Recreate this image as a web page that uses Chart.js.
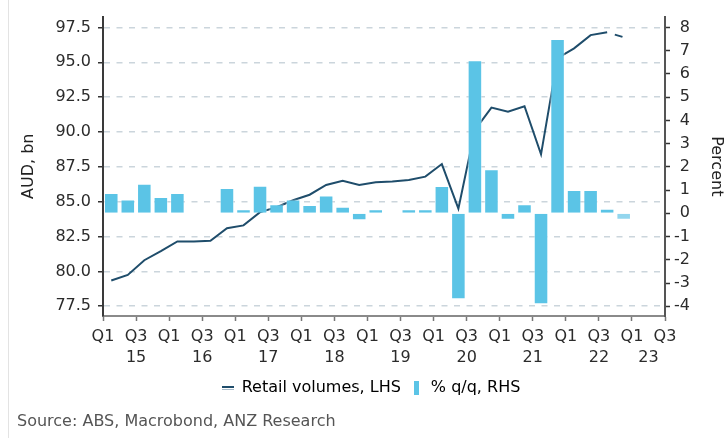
<!DOCTYPE html>
<html>
<head>
<meta charset="utf-8">
<script src="https://cdn.jsdelivr.net/npm/chart.js@4.4.1/dist/chart.umd.min.js"></script>
<style>
  body { margin: 0; background: #fff; }
  #wrap { position: relative; width: 724px; height: 438px; }
  #frame { position: absolute; left: 8px; top: 0; width: 1px; height: 438px; background: #e3e3e3; }
  #source { position: absolute; left: 17px; top: 411px; font: 16px 'DejaVu Sans', Verdana, sans-serif; color: #555; }
</style>
</head>
<body>
<div id="wrap">
  <canvas id="chart" width="724" height="438"></canvas>
  <div id="frame"></div>
  <div id="source">Source: ABS, Macrobond, ANZ Research</div>
</div>
<script>
// quarterly, Q1 2015 .. Q4 2022
const retailVolumes = [79.35, 79.75, 80.8, 81.45, 82.15, 82.15, 82.2, 83.1,
                       83.3, 84.25, 84.6, 85.1, 85.5, 86.2, 86.5, 86.2,
                       86.4, 86.45, 86.55, 86.8, 87.7, 84.5, 90.15, 91.75,
                       91.45, 91.85, 88.4, 95.3, 96.0, 96.95, 97.15, 96.8];
const qoqGrowth = [0.88, 0.6, 1.27, 0.7, 0.88, null, null, 1.09,
                   0.18, 1.19, 0.39, 0.6, 0.36, 0.77, 0.28, -0.3,
                   0.18, null, 0.18, 0.18, 1.18, -3.7, 6.59, 1.9,
                   -0.28, 0.39, -3.91, 7.51, 1.0, 1.0, 0.2, -0.28];
const years = ['15', '16', '17', '18', '19', '20', '21', '22', '23'];
const yearTickPos = [2, 6, 10, 14, 18, 22, 26, 30, 33];
const leftTicks = [77.5, 80, 82.5, 85, 87.5, 90, 92.5, 95, 97.5];
const rightTicks = [-4, -3, -2, -1, 0, 1, 2, 3, 4, 5, 6, 7, 8];

const lineColor = '#1f4d6b';
const barColor = '#5bc4e6';
const barColorLast = '#93d6ee';

Chart.defaults.font.family = "'DejaVu Sans', Verdana, sans-serif";
Chart.defaults.font.size = 16;
Chart.defaults.color = '#2b2b2b';

function makeIcon(w, h, draw) {
    const c = document.createElement('canvas');
    c.width = w;
    c.height = h;
    draw(c.getContext('2d'));
    return c;
}
const lineIcon = makeIcon(12, 8, g => {
    g.fillStyle = lineColor;
    g.fillRect(0, 2, 12, 2);
    g.fillStyle = '#a9bccb';
    g.fillRect(0, 5, 12, 1);
});
const barIcon = makeIcon(5, 14, g => {
    g.fillStyle = barColor;
    g.fillRect(0, 0, 5, 14);
});

const ctx = document.getElementById('chart').getContext('2d');
const chart = new Chart(ctx, {
    type: 'bar',
    data: {
        datasets: [{
            type: 'line',
            label: 'Retail volumes, LHS',
            data: retailVolumes.map((v, i) => ({ x: i + 0.5, y: v })),
            yAxisID: 'y',
            borderColor: lineColor,
            borderWidth: 2,
            pointRadius: 0,
            tension: 0,
            order: 2,
            segment: {
                borderDash: c => c.p1DataIndex === retailVolumes.length - 1 ? [8, 8] : undefined,
                borderDashOffset: c => c.p1DataIndex === retailVolumes.length - 1 ? 8 : 0,
            },
        }, {
            label: '% q/q, RHS',
            data: qoqGrowth.map((v, i) => ({ x: i + 0.5, y: v })),
            yAxisID: 'y1',
            backgroundColor: qoqGrowth.map((v, i) => i === qoqGrowth.length - 1 ? barColorLast : barColor),
            borderColor: 'rgba(255,255,255,0.45)',
            borderWidth: 1,
            barPercentage: 0.88,
            categoryPercentage: 1,
            order: 1,
        }],
    },
    options: {
        responsive: false,
        animation: false,
        devicePixelRatio: 1,
        layout: { padding: { top: 9.5, bottom: 32, left: 52, right: 34 } },
        plugins: {
            tooltip: { enabled: false },
            legend: {
                position: 'bottom',
                labels: {
                    usePointStyle: true,
                    boxWidth: 12,
                    padding: 10,
                    color: '#222',
                    font: { size: 16 },
                    generateLabels: () => [
                        { text: 'Retail volumes, LHS', pointStyle: lineIcon, datasetIndex: 0, lineWidth: 0, hidden: false },
                        { text: '% q/q, RHS', pointStyle: barIcon, datasetIndex: 1, lineWidth: 0, hidden: false },
                    ],
                },
            },
        },
        scales: {
            x: {
                type: 'linear',
                position: 'bottom',
                min: 0,
                max: 34,
                offset: false,
                weight: 0,
                afterBuildTicks: s => { s.ticks = []; for (let q = 0; q <= 34; q += 2) s.ticks.push({ value: q }); },
                afterFit: s => { s.height = 30; },
                ticks: {
                    autoSkip: false,
                    maxRotation: 0,
                    padding: 6,
                    callback: v => (v % 4 === 0 ? 'Q1' : 'Q3'),
                },
                grid: { offset: false, drawOnChartArea: false, tickLength: 5, tickColor: '#777', tickWidth: 1.5 },
                border: { color: '#8a8a8a', width: 2 },
            },
            xYear: {
                type: 'linear',
                axis: 'x',
                position: 'bottom',
                min: 0,
                max: 34,
                offset: false,
                weight: 1,
                afterBuildTicks: s => { s.ticks = yearTickPos.map(v => ({ value: v })); },
                afterFit: s => { s.height = 24; },
                ticks: {
                    autoSkip: false,
                    maxRotation: 0,
                    padding: 2,
                    callback: (v, i) => years[i],
                },
                grid: { display: false, drawTicks: false, offset: false },
                border: { display: false },
            },
            y: {
                position: 'left',
                min: 76.8,
                max: 98.28,
                afterBuildTicks: s => { s.ticks = leftTicks.map(v => ({ value: v })); },
                afterFit: s => { s.width = 51; },
                ticks: {
                    padding: 7,
                    callback: v => Number(v).toFixed(1),
                },
                grid: { color: '#cbd5dc', lineWidth: 1.5, tickLength: 5, tickColor: '#333', tickWidth: 1.5 },
                border: { color: '#3a3a3a', width: 2, dash: [6, 6.5] },
                title: { display: true, text: 'AUD, bn', color: '#222', padding: { top: -33 } },
            },
            y1: {
                position: 'right',
                min: -4.42,
                max: 8.47,
                afterBuildTicks: s => { s.ticks = rightTicks.map(v => ({ value: v })); },
                afterFit: s => { s.width = 25; },
                ticks: { crossAlign: 'far', padding: 5 },
                grid: { drawOnChartArea: false, tickLength: 5, tickColor: '#333', tickWidth: 1.5 },
                border: { color: '#555', width: 2 },
                title: { display: true, text: 'Percent', color: '#222', padding: { top: -36 } },
            },
        },
    },
});
</script>
</body>
</html>
